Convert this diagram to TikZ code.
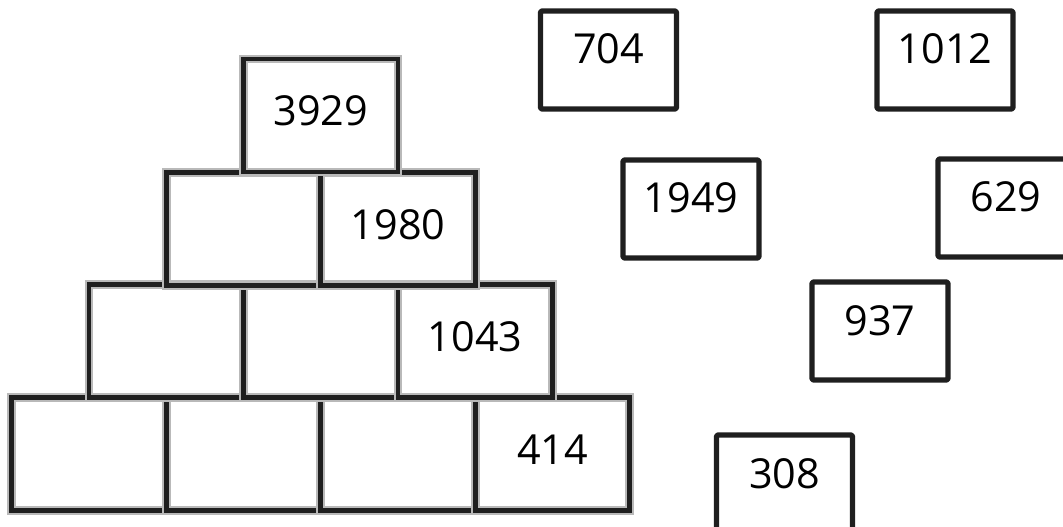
\documentclass[tikz,border=0pt]{standalone}
\usepackage{fontspec}
\setmainfont{Open Sans}
\begin{document}
\begin{tikzpicture}[x=0.75pt, y=-0.75pt,
    every node/.style={font=\fontsize{31}{36}\selectfont, text height=22pt},
    brick/.style={rectangle, draw=black!88, line width=3.4pt, minimum width=154.5*0.75pt, minimum height=113*0.75pt,
        preaction={draw=gray!55, line width=6.5pt}, text depth=7pt},
    tile/.style={rectangle, draw=black!88, line width=4pt, rounded corners=1pt, line join=round,
        minimum width=136*0.75pt, minimum height=98*0.75pt, text depth=16pt}]
    \clip (0, 0) rectangle (1063, 527);

    % pyramid
    \node[brick] (r41) at (89, 454) {};
    \node[brick] (r42) at (243.5, 454) {};
    \node[brick] (r43) at (398, 454) {};
    \node[brick] (r44) at (552.5, 454) {414};

    \node[brick] (r31) at (166.25, 341) {};
    \node[brick] (r32) at (320.75, 341) {};
    \node[brick] (r33) at (475.25, 341) {1043};

    \node[brick] (r21) at (243.5, 229) {};
    \node[brick] (r22) at (398, 229) {1980};

    \node[brick] (r11) at (320.75, 115.5) {3929};

    % loose numbers
    \node[tile] (n704) at (608.5, 60) {704};
    \node[tile] (n1012) at (945, 60) {1012};
    \node[tile] (n1949) at (691, 209) {1949};
    \node[tile] (n629) at (1006, 208) {629};
    \node[tile] (n937) at (880, 331) {937};
    \node[tile] (n308) at (784.5, 484) {308};
\end{tikzpicture}
\end{document}
